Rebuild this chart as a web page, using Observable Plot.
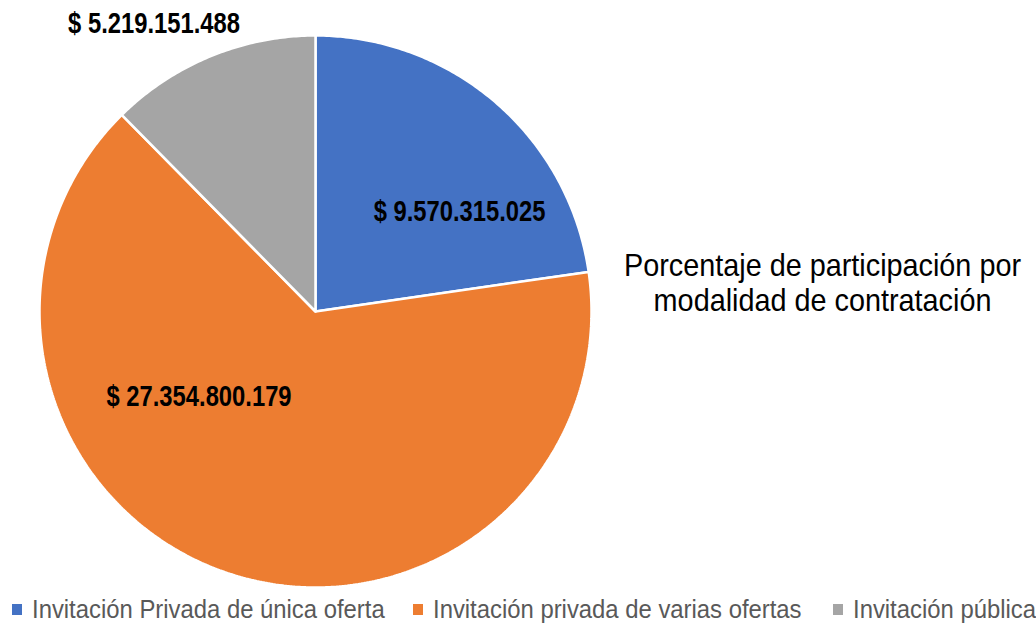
<!DOCTYPE html>
<html>
<head>
<meta charset="utf-8">
<script src="https://cdn.jsdelivr.net/npm/d3@7"></script>
<script src="https://cdn.jsdelivr.net/npm/@observablehq/plot@0.6"></script>
<style>
  html, body { margin: 0; padding: 0; background: #fff; }
  body { width: 1036px; height: 626px; overflow: hidden; position: relative; font-family: "Liberation Sans", Arial, sans-serif; }
  #legend .item { position: absolute; top: 592px; height: 34px; display: block; color: #595959; font-size: 26.5px; white-space: nowrap; }
  #legend .sw { position: absolute; top: 12px; left: 0; width: 10px; height: 11px; }
  #legend .tx { position: absolute; left: 20px; top: 0; line-height: 34px; display: inline-block; transform: scaleX(0.9); transform-origin: left center; }
</style>
</head>
<body>
<div id="chart"></div>
<div id="legend"></div>
<script>
const categories = ["Invitación Privada de única oferta", "Invitación privada de varias ofertas", "Invitación pública"];
const values = [9570315025, 27354800179, 5219151488];
const labels = ["$ 9.570.315.025", "$ 27.354.800.179", "$ 5.219.151.488"];
const colors = ["#4472C4", "#ED7D31", "#A5A5A5"];
const titleLines = ["Porcentaje de participación por", "modalidad de contratación"];

// label placement (unit-circle coordinates)
const labelPos = [[0.522, 0.363], [-0.422, -0.310], [-0.585, 1.041]];
const titlePos = [[1.837, 0.167], [1.837, 0.040]];

const pie = d3.pie().sort(null).value(d => d)(values);
const slicePts = [];
pie.forEach((p, i) => {
  const n = Math.max(2, Math.ceil((p.endAngle - p.startAngle) / 0.01));
  slicePts.push({k: i, x: 0, y: 0});
  for (let j = 0; j <= n; j++) {
    const a = p.startAngle + (p.endAngle - p.startAngle) * j / n;
    slicePts.push({k: i, x: Math.sin(a), y: Math.cos(a)});
  }
  slicePts.push({k: i, x: 0, y: 0});
});

const labelData = labels.map((t, i) => ({t, x: labelPos[i][0], y: labelPos[i][1]}));
const titleData = titleLines.map((t, i) => ({t, x: titlePos[i][0], y: titlePos[i][1]}));

const font = '"Liberation Sans", Arial, sans-serif';

const chart = Plot.plot({
  width: 1036,
  height: 592,
  margin: 0,
  style: {fontFamily: font, background: "#fff"},
  x: {domain: [-1, 1], range: [39, 591], axis: null},
  y: {domain: [-1, 1], range: [587, 35], axis: null},
  marks: [
    Plot.line(slicePts, {x: "x", y: "y", z: "k", fill: d => colors[d.k], stroke: "#fff", strokeWidth: 2.5, strokeLinejoin: "miter", curve: "linear"}),
    Plot.text(labelData, {x: "x", y: "y", text: "t", fontSize: 29, fontWeight: "bold", fill: "#000", lineAnchor: "middle", className: "lbl"}),
    Plot.text(titleData, {x: "x", y: "y", text: "t", fontSize: 32, fill: "#000", textAnchor: "middle", lineAnchor: "middle", className: "ttl"})
  ]
});
document.getElementById("chart").appendChild(chart);

// condense glyphs to mimic a narrow typeface
function condense(sel, k) {
  chart.querySelectorAll(sel + " text").forEach(t => {
    const L = t.getComputedTextLength();
    t.setAttribute("textLength", (L * k).toFixed(1));
    t.setAttribute("lengthAdjust", "spacingAndGlyphs");
  });
}
condense(".lbl", 0.82);
condense(".ttl", 0.9);

const legend = document.getElementById("legend");
const lefts = [12, 413, 833];
categories.forEach((c, i) => {
  const it = document.createElement("div");
  it.className = "item";
  it.style.left = lefts[i] + "px";
  it.innerHTML = `<span class="sw" style="background:${colors[i]}"></span><span class="tx">${c}</span>`;
  legend.appendChild(it);
});
</script>
</body>
</html>
